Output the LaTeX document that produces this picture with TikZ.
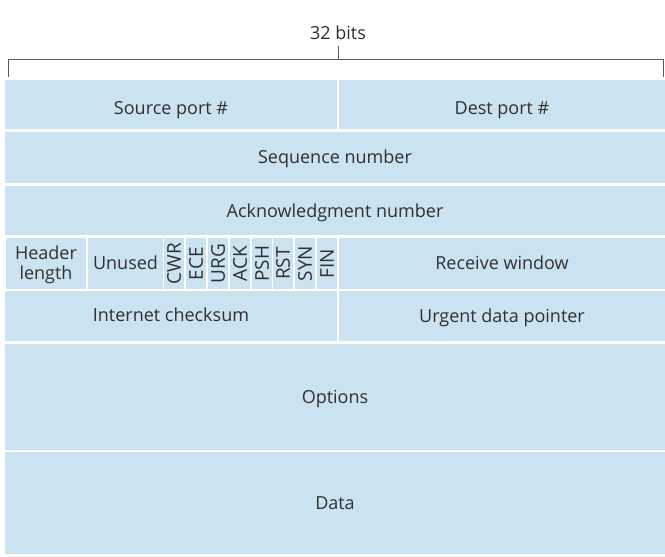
\documentclass[tikz,border=0pt]{standalone}
\usepackage{fontspec}
\setmainfont{Open Sans}
\definecolor{cellblue}{HTML}{CBE3F0}
\definecolor{txt}{HTML}{303030}
\definecolor{brk}{HTML}{5A5A5A}
\newcommand\cellbox[7][]{\node[cell, minimum width={(#5-#3)*1pt}, minimum height={(#6-#4)*1pt}] (#2) at ({(#3+#5)/2},{(#4+#6)/2}) {};
  \node[lbl, #1] at (#2.center) {#7};}
\newcommand\flagbox[6]{\node[cell, minimum width={(#4-#2)*1pt}, minimum height={(#5-#3)*1pt}] (#1) at ({(#2+#4)/2},{(#3+#5)/2}) {};
  \node[flag] at (#1.center) {#6};}
\begin{document}
\begin{tikzpicture}[x=1pt,y=-1pt,
  cell/.style={rectangle, fill=cellblue, inner sep=0pt},
  lbl/.style={inner sep=0pt, text=txt, font=\fontsize{18}{21}\selectfont, align=center, text height=12.8pt, text depth=0pt},
  flag/.style={inner sep=0pt, text=txt, font=\fontsize{19}{21}\selectfont, rotate=90, text height=13.6pt, text depth=0pt},
  brace/.style={draw=brk, line width=0.8pt}]
\useasboundingbox[fill=white] (0,0) rectangle (665,557);
% bracket
\node[lbl] (bits) at (338,33) {32 bits};
\coordinate (bl) at (8,77);
\coordinate (blt) at (8,59);
\coordinate (brt) at (663,59);
\coordinate (br) at (663,77);
\coordinate (bm) at (338,59);
\coordinate (bmt) at (338,46);
\draw[brace] (bl) -- (blt) -- (brt) -- (br);
\draw[brace] (bm) -- (bmt);
% rows
\cellbox[yshift=-4pt]{src}{5}{80}{337}{129}{Source port \#}
\cellbox[yshift=-4pt]{dst}{339}{80}{665}{129}{Dest port \#}
\cellbox{seq}{5}{132}{665}{183}{Sequence number}
\cellbox[yshift=-1pt]{ack}{5}{186}{665}{235}{Acknowledgment number}
\cellbox{hlen}{6}{238}{86}{289}{}
\node[lbl, text height=12.8pt, text depth=0pt] (hl1) at (46,253) {Header};
\node[lbl] (hl2) at (46,273) {length};
\cellbox{unused}{88}{238}{163}{289}{Unused}
\flagbox{cwr}{164}{238}{184}{289}{CWR}
\flagbox{ece}{186}{238}{206}{289}{ECE}
\flagbox{urg}{208}{238}{228}{289}{URG}
\flagbox{ackf}{230}{238}{250}{289}{ACK}
\flagbox{psh}{252}{238}{272}{289}{PSH}
\flagbox{rst}{273}{238}{293}{289}{RST}
\flagbox{syn}{295}{238}{315}{289}{SYN}
\flagbox{fin}{317}{238}{337}{289}{FIN}
\cellbox{rwin}{339}{238}{665}{289}{Receive window}
\cellbox[yshift=1pt]{csum}{5}{291}{337}{341}{Internet checksum}
\cellbox{urgp}{339}{291}{665}{341}{Urgent data pointer}
\cellbox{opt}{5}{344}{665}{450}{Options}
\cellbox{data}{5}{452}{665}{554}{Data}
\end{tikzpicture}
\end{document}
